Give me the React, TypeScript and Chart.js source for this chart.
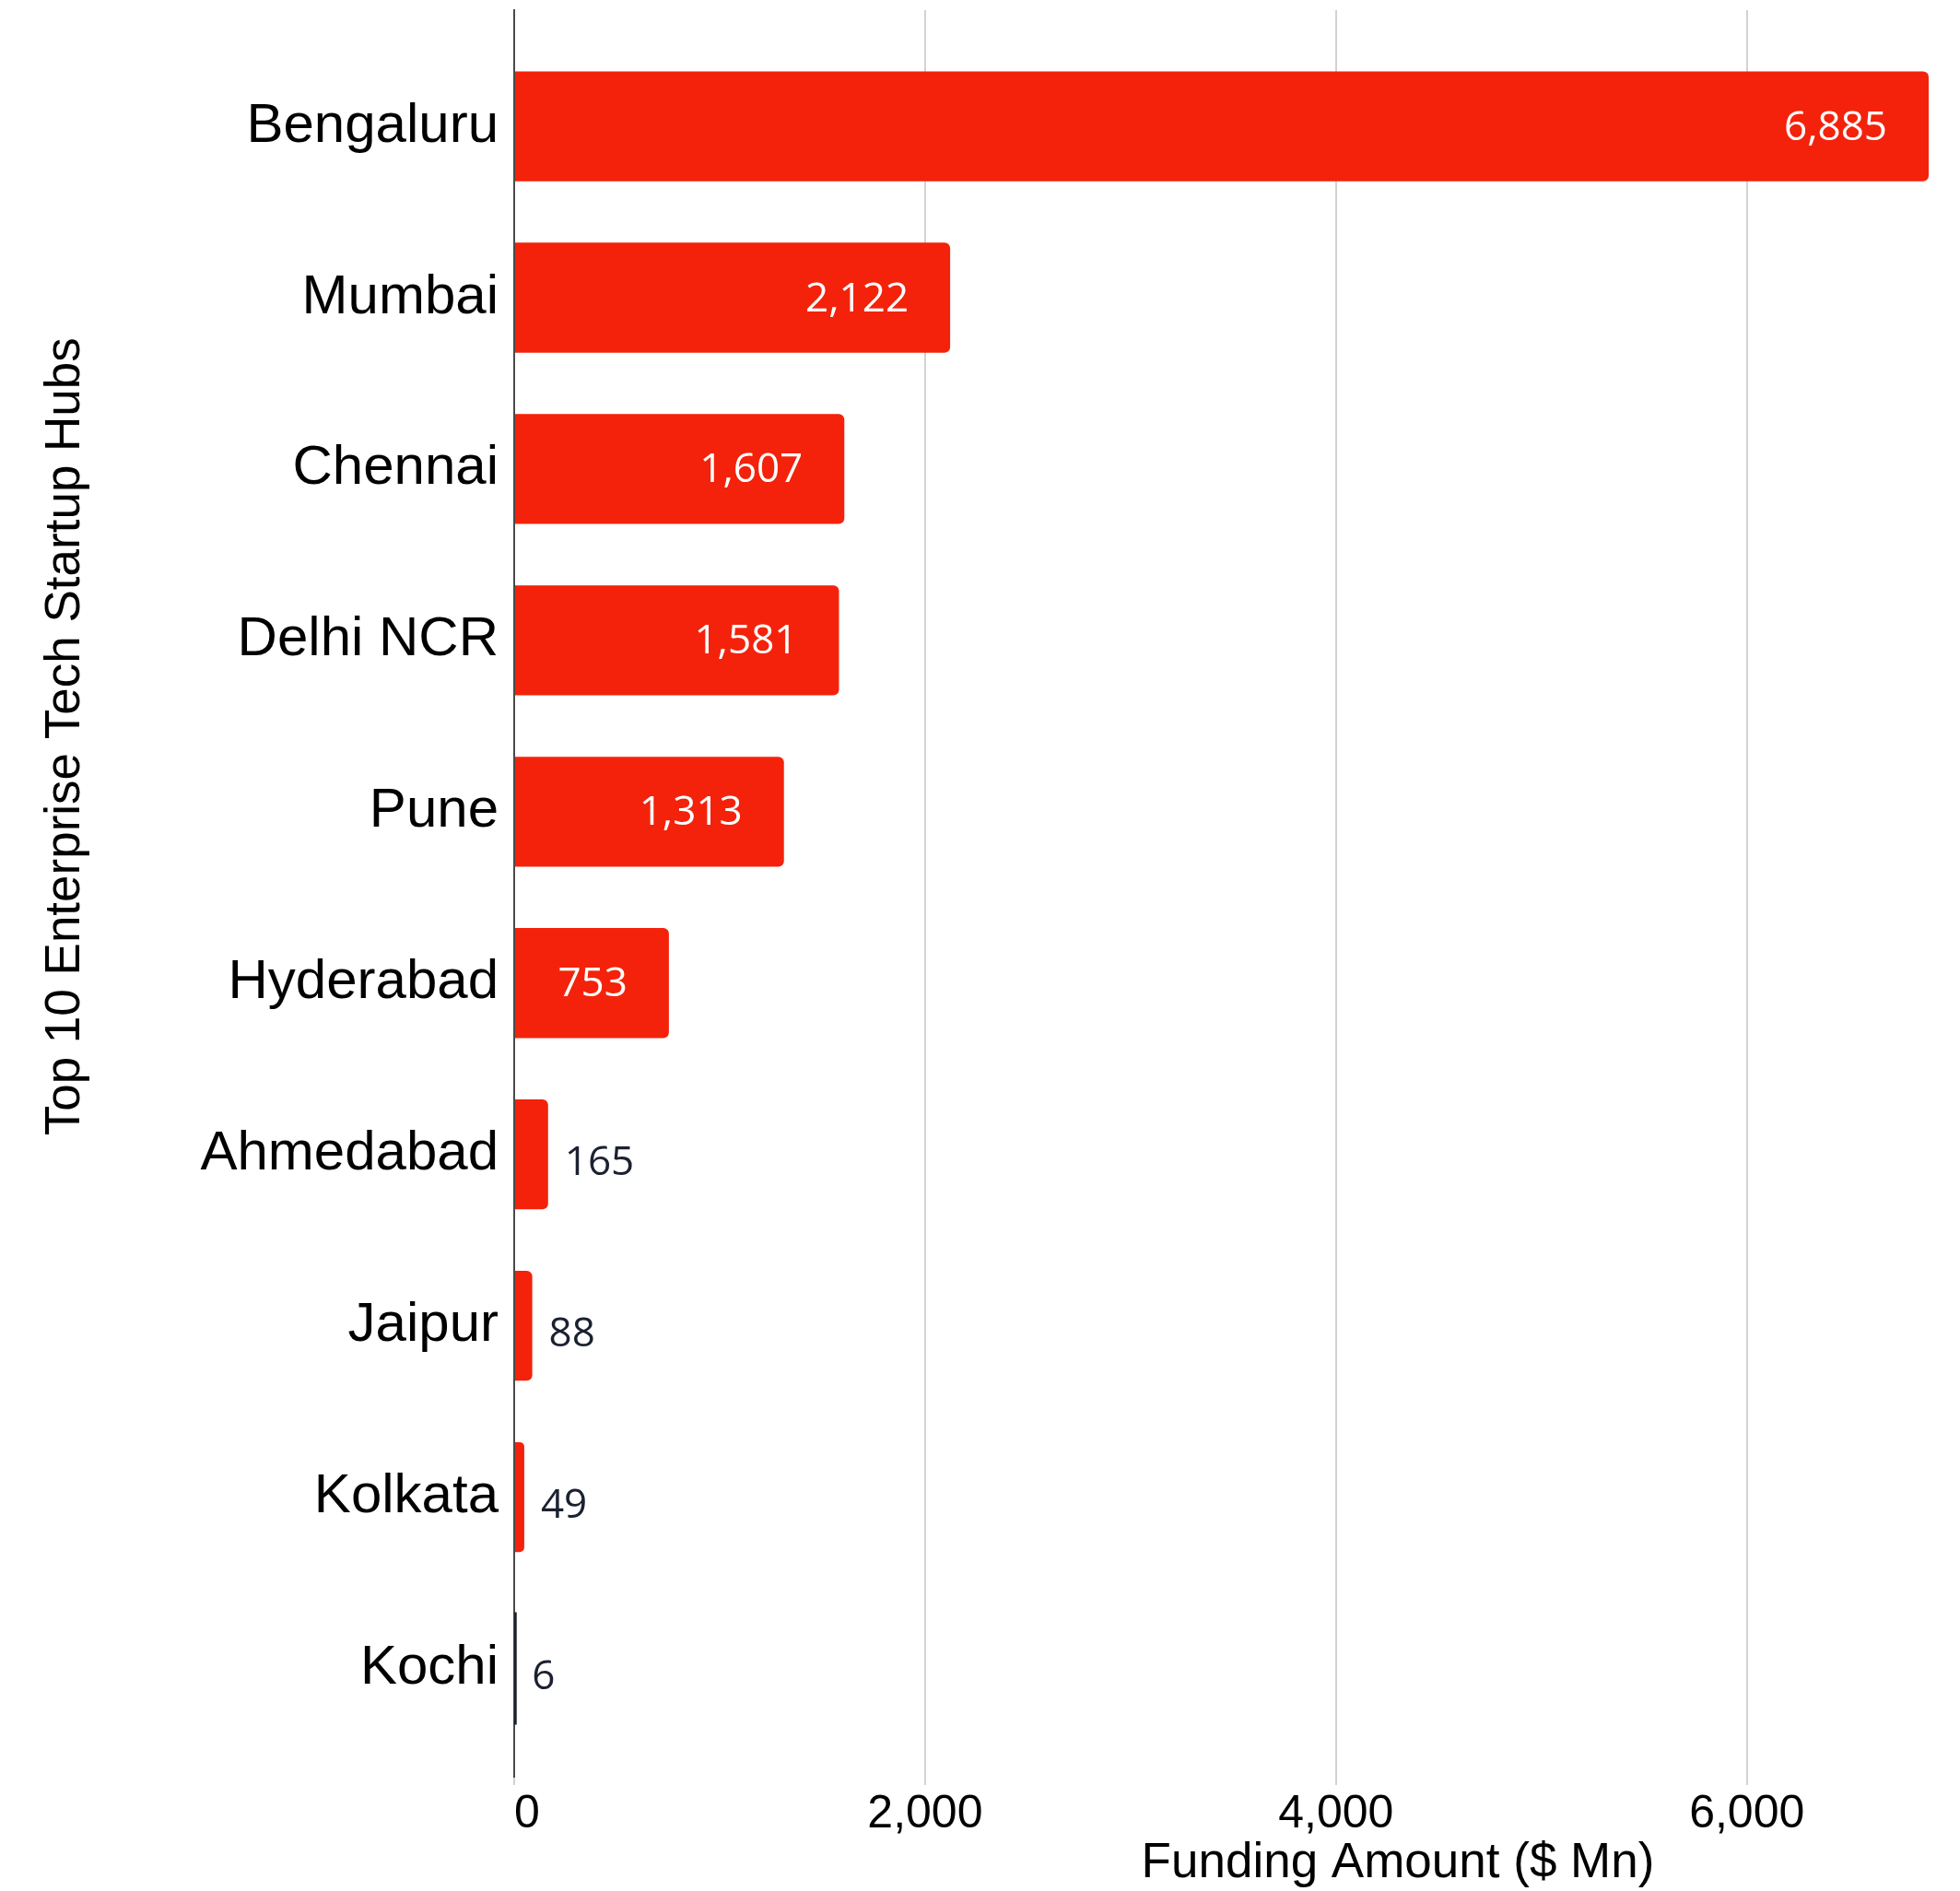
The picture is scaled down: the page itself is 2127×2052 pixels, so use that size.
import React, { useEffect, useRef } from "react";
import { Chart, registerables } from "chart.js";

Chart.register(...registerables);

const cities: string[] = [
  "Bengaluru",
  "Mumbai",
  "Chennai",
  "Delhi NCR",
  "Pune",
  "Hyderabad",
  "Ahmedabad",
  "Jaipur",
  "Kolkata",
  "Kochi",
];

const funding: number[] = [6885, 2122, 1607, 1581, 1313, 753, 165, 88, 49, 6];

const xTickStep = 2000;
const xAxisTitle = "Funding Amount ($ Mn)";
const yAxisTitle = "Top 10 Enterprise Tech Startup Hubs";

const RED = "#F4220B";
const DARK = "#1B2131";
const GRID = "#d2d2d2";
const lastIndex = funding.length - 1;
const barColors = funding.map((v, i) => (i === lastIndex ? DARK : RED));
const xMax = Math.max(...funding);

const W = 2127;
const H = 2052;
const AXIS_FONT = "'Liberation Sans', Arial, Helvetica, sans-serif";
const LABEL_FONT = "'Open Sans', 'Noto Sans', sans-serif";

const valueLabels = {
  id: "valueLabels",
  afterDatasetsDraw(chart: any) {
    const ctx = chart.ctx;
    const meta = chart.getDatasetMeta(0);
    ctx.save();
    ctx.font = `44px ${LABEL_FONT}`;
    ctx.textBaseline = "middle";
    meta.data.forEach((bar: any, i: number) => {
      const v = funding[i];
      const text = v.toLocaleString("en-US");
      const tw = ctx.measureText(text).width;
      const barW = bar.x - bar.base;
      if (barW > tw + 70) {
        ctx.fillStyle = "#ffffff";
        ctx.textAlign = "right";
        ctx.fillText(text, bar.x - 45, bar.y + 2);
      } else {
        ctx.fillStyle = DARK;
        ctx.textAlign = "left";
        ctx.fillText(text, bar.x + 18, bar.y + 10);
      }
    });
    ctx.restore();
  },
};

const axisTitles = {
  id: "axisTitles",
  afterDraw(chart: any) {
    const ctx = chart.ctx;
    ctx.save();
    ctx.fillStyle = "#000000";
    ctx.font = `53px ${AXIS_FONT}`;
    ctx.textAlign = "center";
    ctx.textBaseline = "middle";
    ctx.fillText(xAxisTitle, W * 0.7132, H * 0.9855);
    ctx.translate(W * 0.0334, H * 0.3895);
    ctx.rotate(-Math.PI / 2);
    ctx.fillText(yAxisTitle, 0, 0);
    ctx.restore();
  },
};

export default function App() {
  const canvasRef = useRef<HTMLCanvasElement | null>(null);

  useEffect(() => {
    document.body.style.margin = "0";
    const canvas = canvasRef.current;
    if (!canvas) return;
    const chart = new Chart(canvas, {
      type: "bar",
      data: {
        datasets: [
          {
            data: funding.map((v, i) => ({ x: v, y: i })),
            backgroundColor: barColors,
            borderRadius: 6,
            borderSkipped: "start",
            barPercentage: 0.802,
            categoryPercentage: 0.8,
            inflateAmount: (c: any) => (c.dataIndex === lastIndex ? 1.4 : "auto"),
          },
        ],
      },
      options: {
        indexAxis: "y",
        responsive: false,
        animation: false,
        devicePixelRatio: 1,
        layout: { padding: { top: 11, right: 34, left: 0, bottom: 0 } },
        plugins: {
          legend: { display: false },
          tooltip: { enabled: false },
        },
        scales: {
          x: {
            type: "linear",
            min: 0,
            max: xMax,
            offset: false,
            grid: {
              color: (c: any) =>
                c.tick && c.tick.value === xMax ? "rgba(0,0,0,0)" : GRID,
              lineWidth: 2,
              drawTicks: true,
              tickLength: 9,
              offset: false,
            },
            border: { display: false },
            ticks: {
              color: "#000000",
              font: { family: AXIS_FONT, size: 50 },
              padding: 2,
              align: "inner",
              maxRotation: 0,
              callback: (v: any) =>
                Number(v) === xMax ? "" : Number(v).toLocaleString("en-US"),
            },
            afterBuildTicks: (scale: any) => {
              const t: any[] = [];
              for (let v = 0; v <= scale.max; v += xTickStep) t.push({ value: v });
              t.push({ value: xMax });
              scale.ticks = t;
            },
            afterFit: (scale: any) => {
              scale.height = 124;
              scale.paddingLeft = 0;
              scale.paddingRight = 0;
            },
          },
          y: {
            type: "linear",
            reverse: true,
            min: -0.678,
            max: 9.632,
            offset: false,
            grid: { display: false, offset: false },
            border: { display: true, color: "#4a4a4a", width: 2 },
            ticks: {
              color: "#000000",
              font: { family: AXIS_FONT, size: 60 },
              padding: 9,
              callback: (v: any) =>
                Number.isInteger(v) && cities[v] !== undefined ? cities[v] : "",
            },
            afterBuildTicks: (scale: any) => {
              scale.ticks = cities.map((c, i) => ({ value: i }));
            },
            afterFit: (scale: any) => {
              scale.width = 558;
              scale.paddingTop = 0;
              scale.paddingBottom = 0;
            },
          },
        },
      },
      plugins: [valueLabels, axisTitles],
    });
    return () => chart.destroy();
  }, []);

  return (
    <div style={{ width: W, height: H, background: "#ffffff" }}>
      <canvas ref={canvasRef} width={W} height={H} style={{ display: "block" }} />
    </div>
  );
}
